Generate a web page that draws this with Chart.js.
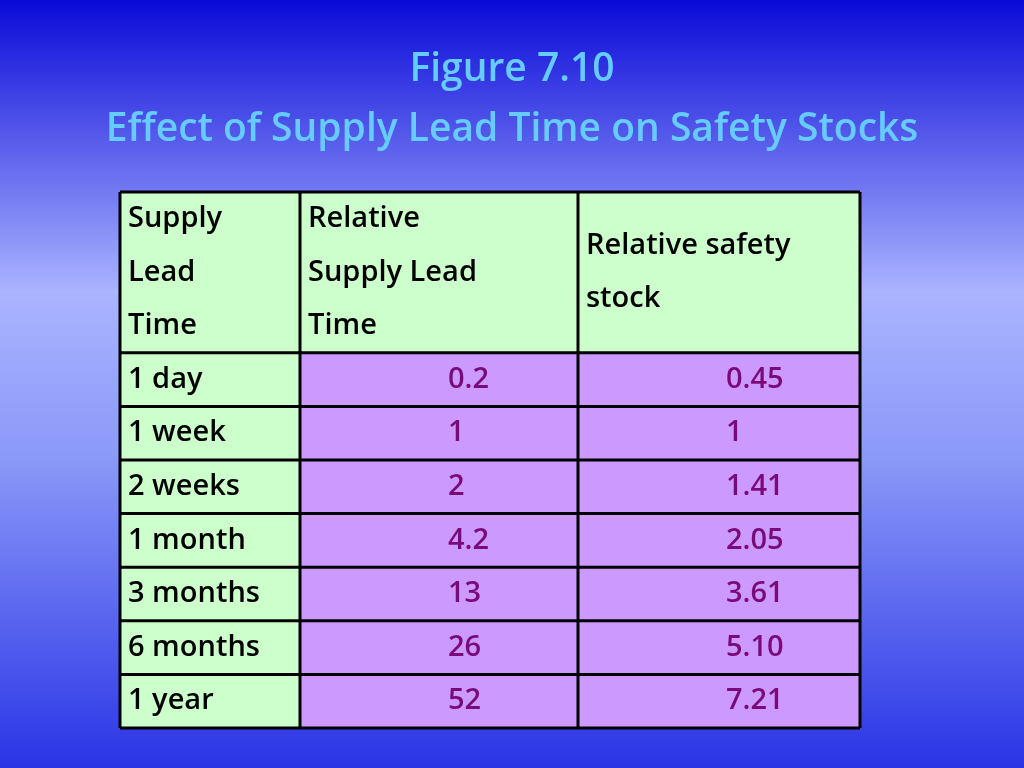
<!DOCTYPE html>
<html><head><meta charset="utf-8">
<script src="https://cdn.jsdelivr.net/npm/chart.js@4"></script>
<style>html,body{margin:0;padding:0;}#c{display:block;}</style>
</head><body>
<div style="width:1024px;height:768px;"><canvas id="c" width="1024" height="768"></canvas></div>
<script>
const titleLines = ["Figure 7.10", "Effect of Supply Lead Time on Safety Stocks"];
const headers = [["Supply","Lead","Time"],["Relative","Supply Lead","Time"],["Relative safety","stock"]];
const leadTimes = ["1 day","1 week","2 weeks","1 month","3 months","6 months","1 year"];
const relativeLead = ["0.2","1","2","4.2","13","26","52"];
const relativeSafety = ["0.45","1","1.41","2.05","3.61","5.10","7.21"];
const colEdges = [0, 180, 458, 740];
const slots = ["h1","h2","h3"].concat(leadTimes);

const GREEN = "#ccffcc", PURPLE = "#cc99ff";
function colData(ci){ return slots.map(()=>[colEdges[ci], colEdges[ci+1]]); }
function colColors(ci){ return slots.map((s,i)=> (i<3 || ci===0) ? GREEN : PURPLE); }

const deco = {
  id:'deco',
  beforeDraw(chart){
    const ctx = chart.ctx, W = chart.width, H = chart.height;
    const g = ctx.createLinearGradient(0,0,0,H);
    g.addColorStop(0,'#0a0ad8'); g.addColorStop(0.38,'#aab4ff'); g.addColorStop(0.6,'#8a98f8'); g.addColorStop(1,'#2a34e6');
    ctx.save(); ctx.fillStyle = g; ctx.fillRect(0,0,W,H);
    ctx.fillStyle = '#66ccff'; ctx.font = '600 39px "Open Sans"'; ctx.textAlign='center'; ctx.textBaseline='middle';
    ctx.fillText(titleLines[0], 512, 70); ctx.fillText(titleLines[1], 512, 130);
    ctx.restore();
  },
  afterDatasetsDraw(chart){
    const ctx = chart.ctx, xs = chart.scales.x, ys = chart.scales.y;
    const X = v => xs.getPixelForValue(v);
    const half = (ys.getPixelForValue(1)-ys.getPixelForValue(0))/2;
    const top = ys.getPixelForValue(0)-half, bottom = ys.getPixelForValue(slots.length-1)+half;
    const rowTop = i => ys.getPixelForValue(i)-half;
    ctx.save();
    ctx.strokeStyle = '#000'; ctx.lineWidth = 3;
    ctx.beginPath();
    colEdges.forEach(e=>{ ctx.moveTo(X(e),top); ctx.lineTo(X(e),bottom); });
    [0,3,4,5,6,7,8,9].forEach(i=>{ ctx.moveTo(X(0),rowTop(i)); ctx.lineTo(X(740),rowTop(i)); });
    ctx.moveTo(X(0),bottom); ctx.lineTo(X(740),bottom);
    ctx.stroke();
    ctx.font = '600 29px "Open Sans"'; ctx.textBaseline='middle'; ctx.textAlign='left';
    ctx.fillStyle = '#000';
    headers[0].forEach((t,k)=>ctx.fillText(t, X(0)+8, ys.getPixelForValue(k)));
    headers[1].forEach((t,k)=>ctx.fillText(t, X(180)+8, ys.getPixelForValue(k)));
    const hm = (ys.getPixelForValue(0)+ys.getPixelForValue(1))/2, hm2=(ys.getPixelForValue(1)+ys.getPixelForValue(2))/2;
    ctx.fillText(headers[2][0], X(458)+8, hm);
    ctx.fillText(headers[2][1], X(458)+8, hm2);
    leadTimes.forEach((t,i)=>{
      const y = ys.getPixelForValue(i+3);
      ctx.fillStyle='#000'; ctx.fillText(t, X(0)+8, y);
      ctx.fillStyle='#7a0a7a';
      ctx.fillText(relativeLead[i], X(180)+148, y);
      ctx.fillText(relativeSafety[i], X(458)+148, y);
    });
    ctx.restore();
  }
};

new Chart(document.getElementById('c'), {
  type:'bar',
  data:{ labels: slots, datasets: [0,1,2].map(ci=>({
    data: colData(ci), backgroundColor: colColors(ci), borderWidth:0,
    barPercentage:1, categoryPercentage:1, grouped:false }))},
  options:{
    indexAxis:'y', responsive:false, animation:false,
    layout:{padding:{left:120,right:164,top:192,bottom:40}},
    plugins:{legend:{display:false},tooltip:{enabled:false},title:{display:false}},
    scales:{
      x:{type:'linear',min:0,max:740,display:false},
      y:{type:'category',display:false,offset:true}
    }
  },
  plugins:[deco]
});
</script>
</body></html>
